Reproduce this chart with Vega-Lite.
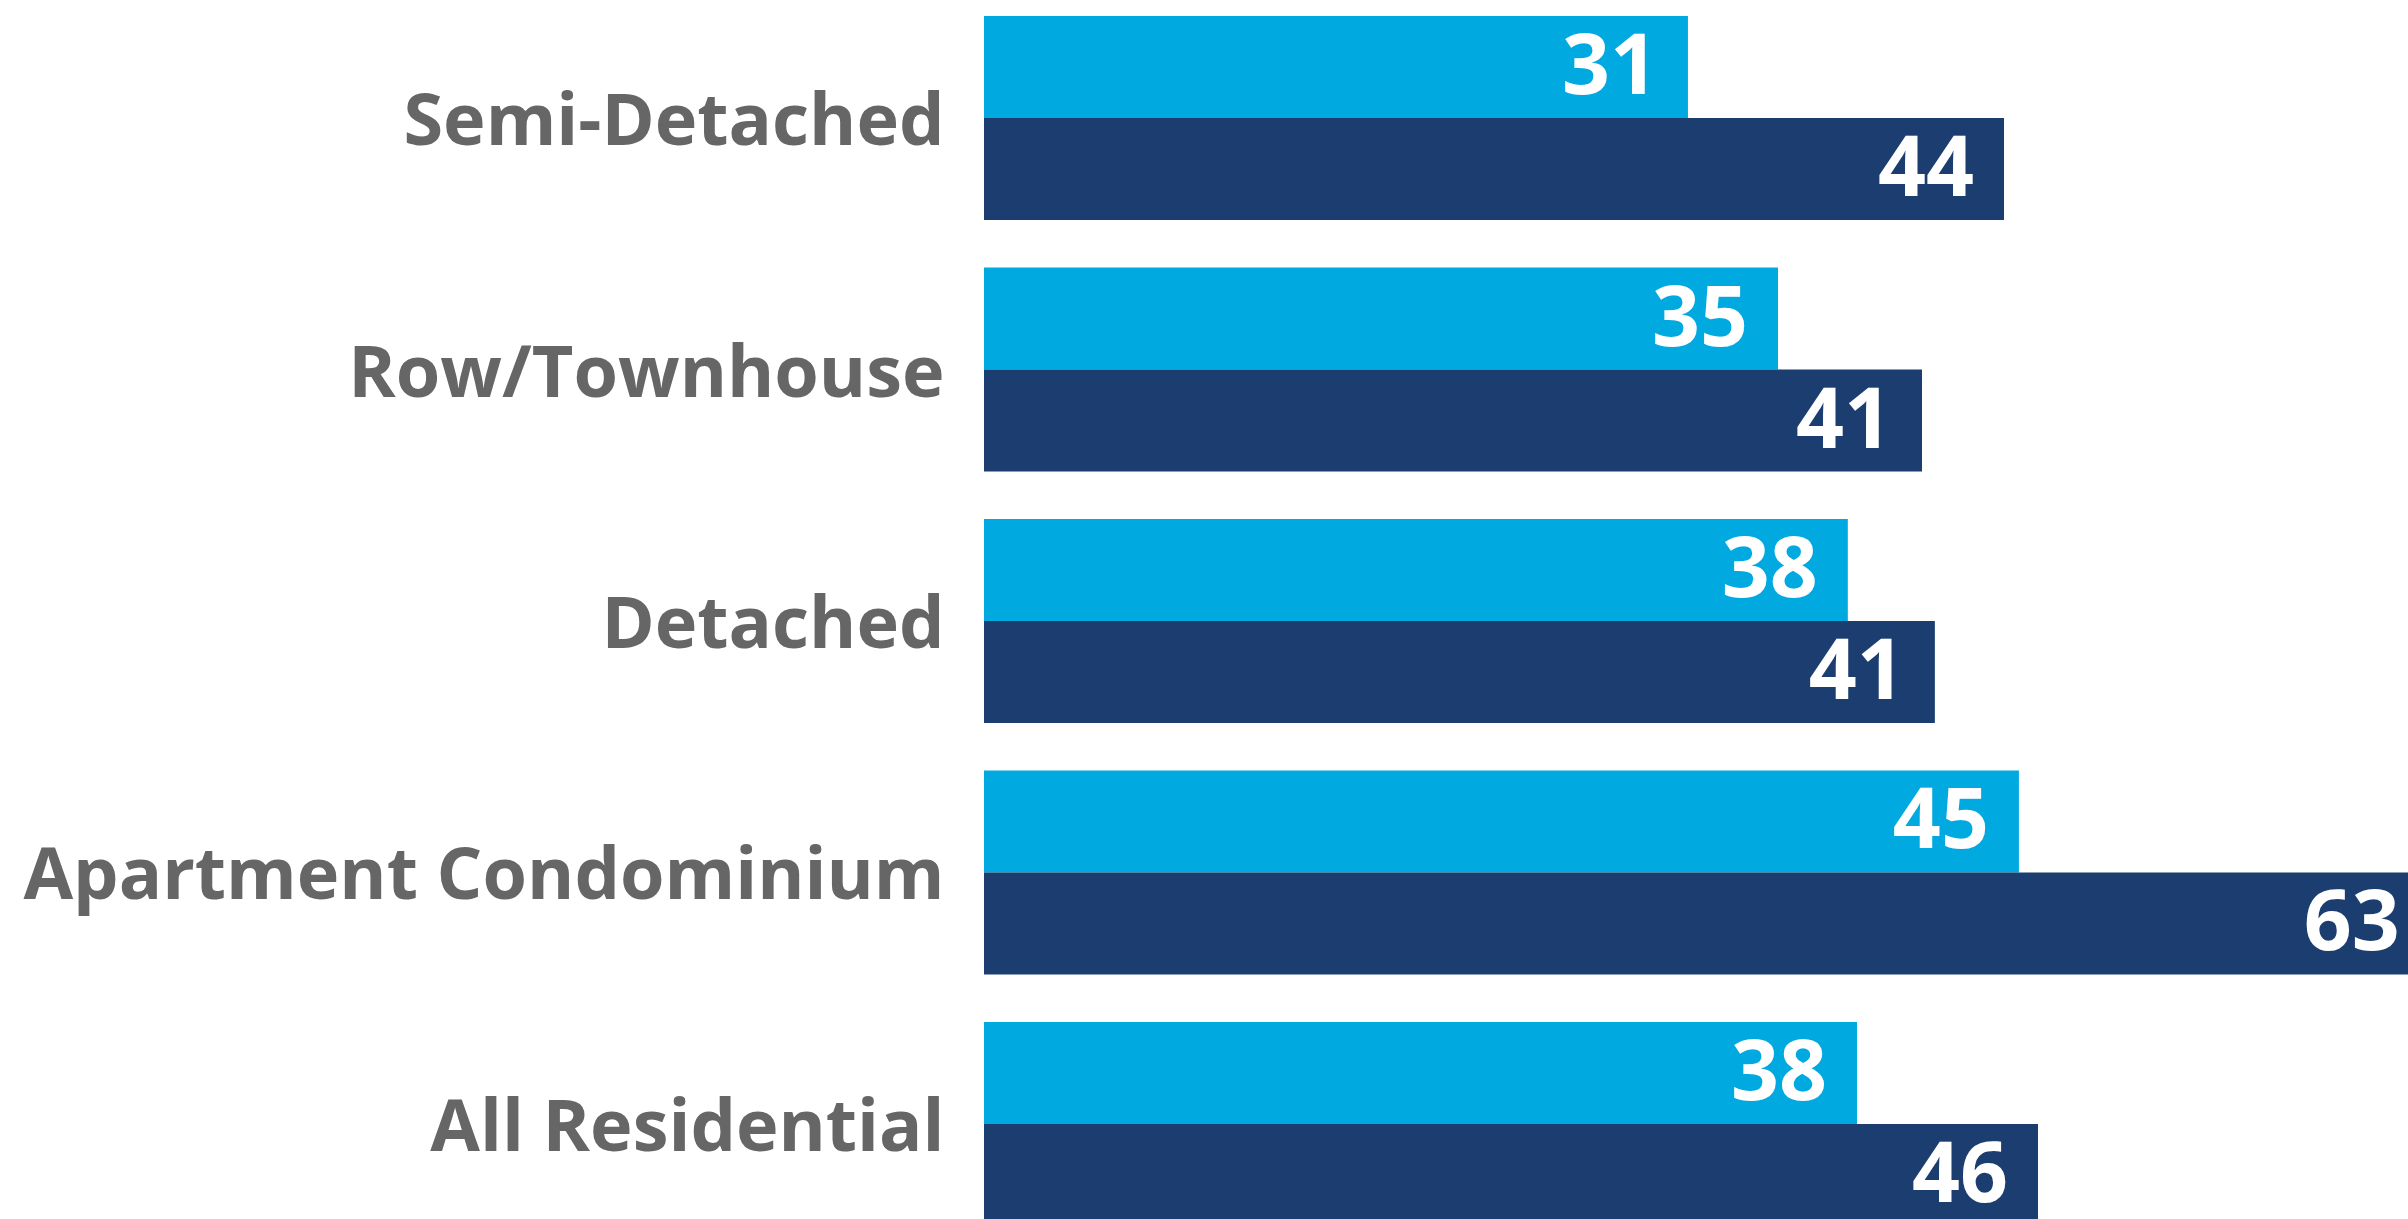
{
  "$schema": "https://vega.github.io/schema/vega-lite/v6.json",
  "autosize": "none",
  "padding": {"left": 984, "top": 0, "right": 0, "bottom": 0},
  "width": 1424,
  "height": 1242,
  "background": "white",
  "config": {"view": {"stroke": null}},
  "data": {
    "values": [
      {"category": "Semi-Detached", "series": "Series 1", "value": 30.65},
      {"category": "Semi-Detached", "series": "Series 2", "value": 44.41},
      {"category": "Row/Townhouse", "series": "Series 1", "value": 34.57},
      {"category": "Row/Townhouse", "series": "Series 2", "value": 40.84},
      {"category": "Detached", "series": "Series 1", "value": 37.61},
      {"category": "Detached", "series": "Series 2", "value": 41.4},
      {"category": "Apartment Condominium", "series": "Series 1", "value": 45.06},
      {"category": "Apartment Condominium", "series": "Series 2", "value": 62.95},
      {"category": "All Residential", "series": "Series 1", "value": 38.01},
      {"category": "All Residential", "series": "Series 2", "value": 45.89}
    ]
  },
  "encoding": {
    "y": {
      "field": "category",
      "type": "nominal",
      "sort": ["Semi-Detached", "Row/Townhouse", "Detached", "Apartment Condominium", "All Residential"],
      "scale": {"paddingInner": 0.189, "paddingOuter": 0.064},
      "axis": {
        "title": null,
        "domain": false,
        "ticks": false,
        "labelFont": "Open Sans",
        "labelFontWeight": "bold",
        "labelFontSize": 72,
        "labelColor": "#666666",
        "labelPadding": 40,
        "labelOffset": 5,
        "labelLimit": 1000
      }
    },
    "yOffset": {
      "field": "series",
      "type": "nominal",
      "sort": ["Series 1", "Series 2"],
      "scale": {"paddingInner": 0, "paddingOuter": 0}
    },
    "x": {
      "field": "value",
      "type": "quantitative",
      "scale": {"domain": [0, 62], "nice": false, "zero": true},
      "axis": null
    }
  },
  "layer": [
    {
      "mark": {"type": "bar", "clip": false},
      "encoding": {
        "color": {
          "field": "series",
          "type": "nominal",
          "scale": {"domain": ["Series 1", "Series 2"], "range": ["#00A9E0", "#1B3D6F"]},
          "legend": null
        }
      }
    },
    {
      "mark": {
        "type": "text",
        "align": "right",
        "baseline": "middle",
        "dx": -30,
        "dy": 2,
        "font": "Open Sans",
        "fontWeight": "bold",
        "fontSize": 84,
        "color": "white"
      },
      "encoding": {
        "text": {"field": "value", "type": "quantitative", "format": ".0f"}
      }
    }
  ]
}
